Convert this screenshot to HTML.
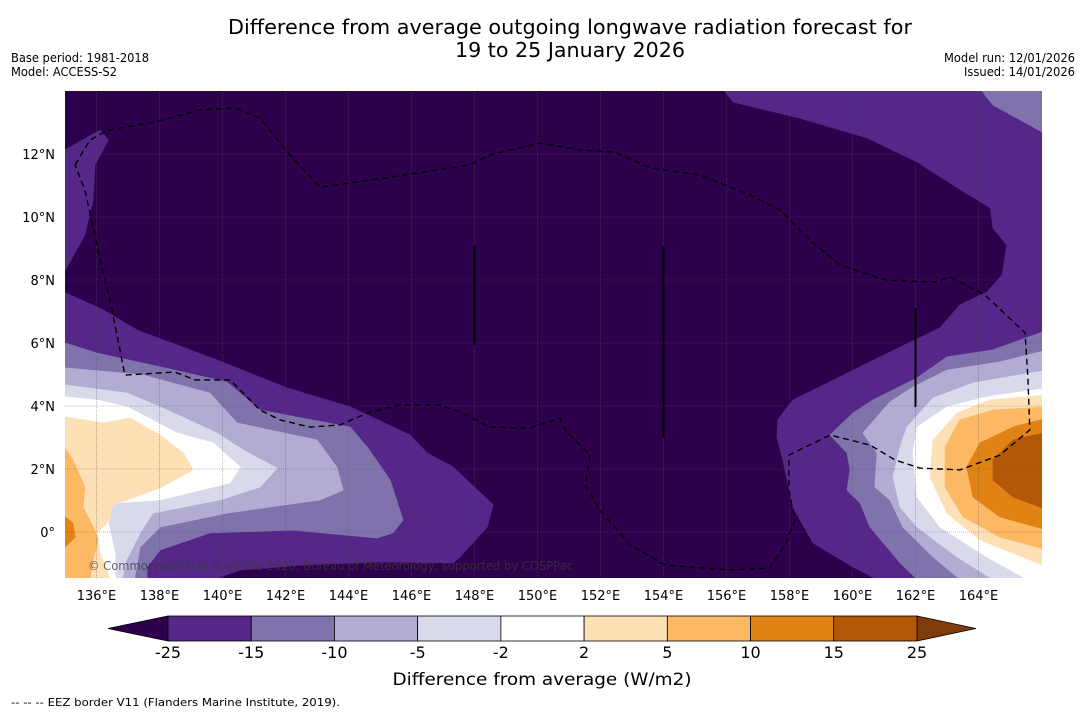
<!DOCTYPE html>
<html><head><meta charset="utf-8"><style>
html,body{margin:0;padding:0;background:#fff;}
svg{display:block;font-family:"DejaVu Sans","Liberation Sans",sans-serif;}
</style></head><body>
<svg id="chart" width="1085" height="713" viewBox="0 0 1085 713">
<text x="570" y="34" font-size="20" text-anchor="middle" textLength="684" lengthAdjust="spacingAndGlyphs" fill="#000">Difference from average outgoing longwave radiation forecast for</text>
<text x="570" y="57" font-size="20" text-anchor="middle" textLength="230" lengthAdjust="spacingAndGlyphs" fill="#000">19 to 25 January 2026</text>
<text x="11" y="62" font-size="12" textLength="138" lengthAdjust="spacingAndGlyphs">Base period: 1981-2018</text>
<text x="11" y="76" font-size="12" textLength="106" lengthAdjust="spacingAndGlyphs">Model: ACCESS-S2</text>
<text x="944" y="62" font-size="12" textLength="131" lengthAdjust="spacingAndGlyphs">Model run: 12/01/2026</text>
<text x="964" y="76" font-size="12" textLength="111" lengthAdjust="spacingAndGlyphs">Issued: 14/01/2026</text>
<defs><clipPath id="mapclip"><rect x="65" y="91" width="977" height="487"/></clipPath></defs>
<g id="map" clip-path="url(#mapclip)">
<rect x="65" y="91" width="977" height="487" fill="#2d004b"/>
<g id="fills"></g><g id="grid"></g><g id="eez"></g>
</g>
<g id="axes"></g>
<text x="88" y="570" font-size="12" textLength="485" lengthAdjust="spacingAndGlyphs" fill="#3a3a3a" fill-opacity="0.75">© Commonwealth of Australia 2026, Bureau of Meteorology, supported by COSPPac</text>
<g id="cbar"></g>
<text x="542" y="685" font-size="17" text-anchor="middle" textLength="299" lengthAdjust="spacingAndGlyphs">Difference from average (W/m2)</text>
<text x="11" y="706" font-size="11" textLength="329" lengthAdjust="spacingAndGlyphs">--  --  -- EEZ border V11 (Flanders Marine Institute, 2019).</text>
</svg>
<script>
const lonTicks=[136,138,140,142,144,146,148,150,152,154,156,158,160,162,164];
const latTicks=[0,2,4,6,8,10,12];
const levels=[-25,-15,-10,-5,-2,2,5,10,15,25];
const levelColors=["#542788","#8073ac","#b2abd2","#d8daeb","#ffffff","#fee0b6","#fdb863","#e08214","#b35806"];
const lowColor="#2d004b", highColor="#7f3b08";
const leftTopPatch=[[135,12.13],[136.11,12.76],[136.37,12.44],[135.95,11.65],[135.89,10.54],[135.63,9.43],[135,8.3]];
const leftM25=[[135,7.6],[136.21,7.05],[137.29,6.41],[139.83,5.46],[142.05,4.57],[144.05,3.97],[145.95,3.08],[146.49,2.51],[147.32,2.06],[148.59,0.86],[148.4,0.16],[147.54,-0.79],[147.32,-0.98],[145,-0.95],[142.46,-1.05],[140.56,-1.21],[139.7,-1.5],[135,-1.5]];
const leftM15=[[135,6.0],[136.02,5.68],[138.02,5.24],[140.14,4.76],[141.19,3.87],[144.05,3.33],[144.59,2.7],[145.32,1.65],[145.73,0.38],[145.41,-0.03],[144.9,-0.19],[142.24,0.06],[139.6,-0.03],[138.02,-0.57],[137.6,-1.11],[137.6,-1.5],[135,-1.5]];
const leftM10=[[135,5.21],[137.48,4.98],[139.6,4.41],[140.46,3.46],[143.0,2.92],[143.63,2.06],[143.83,1.33],[143.1,1.02],[140.14,0.6],[138.02,0.16],[137.38,-0.48],[137.2,-1.5],[135,-1.5]];
const leftM5=[[135,4.67],[136.97,4.41],[138.02,3.97],[139.83,3.14],[140.65,2.6],[141.73,2.03],[141.19,1.43],[139.92,1.02],[137.79,0.6],[137.38,-0.03],[136.95,-0.89],[136.81,-1.5],[135,-1.5]];
const leftM2=[[135,4.29],[136.02,4.19],[136.97,3.97],[138.56,3.14],[139.7,2.83],[140.56,2.06],[140.24,1.56],[138.02,1.02],[136.52,0.92],[136.37,0.29],[136.59,-0.67],[136.6,-1.5],[135,-1.5]];
const leftP2=[[135,3.65],[136.21,3.46],[137.06,3.62],[138.02,3.08],[138.75,2.51],[139.06,1.97],[138.02,1.4],[136.52,0.86],[136.37,0.32],[136.02,-0.03],[136.11,-0.67],[136.43,-1.5],[135,-1.5]];
const leftP5=[[135,2.67],[135.25,2.29],[135.63,1.43],[135.57,0.79],[135.89,0.16],[136.05,-0.25],[135.89,-0.89],[135.79,-1.5],[135,-1.5]];
const leftP10=[[135,0.48],[135.25,0.29],[135.32,-0.16],[135,-0.48]];
const rightM25=[[160.78,-1.5],[160.02,-1.11],[158.75,-0.35],[158.11,0.79],[157.79,2.29],[157.6,3.02],[157.63,3.56],[158.11,4.19],[160.24,5.24],[161.51,5.87],[162.78,6.48],[163.41,7.21],[164.27,7.62],[164.75,8.16],[164.9,9.11],[164.46,9.65],[164.37,10.29],[163.19,11.02],[162.05,11.75],[160.46,12.51],[158.33,13.14],[156.21,13.65],[155.79,14.2],[166.2,14.2],[166.2,-1.5]];
const rightCorner=[[163.95,14.2],[164.46,13.56],[166.2,12.6],[166.2,14.2]];
const rightM15=[[166.2,6.41],[164.46,5.78],[163.0,5.56],[162.05,4.89],[160.65,4.19],[160.02,3.78],[159.29,3.08],[159.83,2.51],[159.92,1.97],[159.83,1.33],[160.24,0.92],[160.56,0.16],[161.51,-0.98],[162.05,-1.5],[166.2,-1.5]];
const rightM10=[[166.2,5.78],[164.68,5.4],[163.0,5.14],[161.92,4.6],[161.19,4.13],[160.33,3.14],[160.78,2.51],[160.71,1.43],[161.19,1.02],[161.6,0.16],[162.56,-0.79],[163.41,-1.5],[166.2,-1.5]];
const rightM5=[[166.2,5.14],[163.83,4.73],[162.56,4.25],[161.73,3.33],[161.51,2.7],[161.29,1.75],[161.51,0.79],[162.05,0.16],[163.32,-0.79],[164.46,-1.5],[166.2,-1.5]];
const rightM2=[[166.2,4.57],[164.27,4.29],[163.0,3.97],[162.05,3.33],[161.92,2.51],[162.05,1.11],[162.78,0.16],[164.27,-0.79],[165.54,-1.5],[166.2,-1.5]];
const rightP2=[[166.2,4.35],[164.37,4.19],[163.32,3.78],[162.56,2.92],[162.46,1.75],[163.0,0.6],[164.05,-0.25],[166.2,-1.11]];
const rightP5=[[166.2,3.97],[164.46,3.87],[163.41,3.56],[162.94,2.7],[162.94,1.43],[163.51,0.48],[164.68,-0.16],[166.2,-0.57]];
const rightP10=[[166.2,3.62],[165.1,3.33],[164.05,2.83],[163.63,2.06],[163.83,1.11],[164.68,0.48],[166.2,0.06]];
const rightP15=[[166.2,3.17],[165.1,2.92],[164.46,2.29],[164.46,1.65],[165.1,1.11],[166.2,0.7]];
const eezLine=[[135.32,11.65],[135.79,12.44],[136.37,12.76],[137.86,13.02],[139.29,13.4],[140.4,13.46],[141.19,13.14],[142.14,11.97],[143.1,10.95],[144.68,11.17],[147.86,11.65],[148.49,11.97],[150.08,12.35],[151.35,12.13],[152.46,12.06],[153.57,11.56],[155.16,11.33],[156.75,10.7],[157.7,10.22],[158.65,9.27],[159.6,8.48],[161.03,8.0],[162.62,7.94],[163.1,8.1],[164.21,7.52],[165.48,6.32],[165.57,4.83],[165.63,3.24],[164.68,2.44],[163.41,1.97],[162.14,2.03],[161.35,2.29],[160.56,2.76],[159.29,3.08],[157.98,2.44],[157.98,1.33],[158.17,0.38],[157.86,-0.41],[157.38,-1.14],[156.11,-1.21],[154.05,-1.05],[152.94,-0.41],[151.98,0.7],[151.51,1.49],[151.67,2.44],[150.87,3.24],[150.71,3.62],[149.76,3.3],[148.49,3.33],[147.54,3.81],[146.9,4.03],[145.63,4.03],[144.68,3.81],[143.73,3.4],[142.78,3.33],[141.83,3.56],[141.19,3.87],[140.24,4.83],[139.13,4.83],[138.49,5.08],[136.9,4.98],[136.43,7.37],[136.11,8.63],[135.95,9.43],[135.63,10.86],[135.32,11.65]];
const islandLines=[[148,9.1,5.94],[154,9.05,3.0],[162,7.11,3.97]];

const NS="http://www.w3.org/2000/svg";
const X0=65,Y0=91,PX=31.5,LON0=135,LAT0=14;
function xs(lon){return X0+(lon-LON0)*PX;}
function ys(lat){return Y0+(LAT0-lat)*PX;}
function mk(tag,attrs,parent){const e=document.createElementNS(NS,tag);for(const k in attrs)e.setAttribute(k,attrs[k]);parent.appendChild(e);return e;}
function pts(a){return a.map(p=>xs(p[0]).toFixed(1)+","+ys(p[1]).toFixed(1)).join(" ");}

const fills=document.getElementById('fills');
const layers=[
 [leftTopPatch,0,'left-top-band-minus15-to-minus25'],[leftM25,0,'left-band-minus15-to-minus25'],[leftM15,1,'left-band-minus10-to-minus15'],[leftM10,2,'left-band-minus5-to-minus10'],[leftM5,3,'left-band-minus2-to-minus5'],[leftM2,4,'left-band-near-zero'],[leftP2,5,'left-band-2-to-5'],[leftP5,6,'left-band-5-to-10'],[leftP10,7,'left-band-10-to-15'],
 [rightM25,0,'right-band-minus15-to-minus25'],[rightCorner,1,'corner-band-minus10-to-minus15'],[rightM15,1,'right-band-minus10-to-minus15'],[rightM10,2,'right-band-minus5-to-minus10'],[rightM5,3,'right-band-minus2-to-minus5'],[rightM2,4,'right-band-near-zero'],[rightP2,5,'right-band-2-to-5'],[rightP5,6,'right-band-5-to-10'],[rightP10,7,'right-band-10-to-15'],[rightP15,8,'right-band-15-to-25']];
layers.forEach(l=>{
 const p=mk('polygon',{points:pts(l[0]),fill:levelColors[l[1]],stroke:levelColors[l[1]],'stroke-width':0.8},fills);
 
 
});

const grid=document.getElementById('grid');
lonTicks.forEach(lon=>{
 const l=mk('line',{x1:xs(lon),x2:xs(lon),y1:91,y2:578,stroke:'#555','stroke-width':0.6,'stroke-dasharray':'1,1','stroke-opacity':0.7},grid);
 
 
});
latTicks.forEach(lat=>{
 const l=mk('line',{x1:65,x2:1042,y1:ys(lat),y2:ys(lat),stroke:'#555','stroke-width':0.6,'stroke-dasharray':'1,1','stroke-opacity':0.7},grid);
 
 
});

const eez=document.getElementById('eez');
const eezP=mk('polyline',{points:pts(eezLine),fill:'none',stroke:'#000','stroke-width':1.4,'stroke-dasharray':'6,4'},eez);


islandLines.forEach(d=>{
 const l=mk('line',{x1:xs(d[0]),x2:xs(d[0]),y1:ys(d[1]),y2:ys(d[2]),stroke:'#000','stroke-width':2},eez);
 
 
});

const axes=document.getElementById('axes');
lonTicks.forEach(lon=>{
 const t=mk('text',{x:xs(lon),y:600,'font-size':13,'text-anchor':'middle'},axes);
 t.textContent=lon+'°E';
 
 
});
latTicks.forEach(lat=>{
 const t=mk('text',{x:55,y:ys(lat)+5,'font-size':13,'text-anchor':'end'},axes);
 t.textContent=lat===0?'0°':lat+'°N';
 
 
});

const cb=document.getElementById('cbar');
const CB0=168,CB1=917,CBY=616,CBH=25,n=levelColors.length,bw=(CB1-CB0)/n;
const lt=mk('polygon',{points:`108,${CBY+CBH/2} ${CB0},${CBY} ${CB0},${CBY+CBH}`,fill:lowColor,stroke:'#000','stroke-width':0.8},cb);


const rt=mk('polygon',{points:`976,${CBY+CBH/2} ${CB1},${CBY} ${CB1},${CBY+CBH}`,fill:highColor,stroke:'#000','stroke-width':0.8},cb);


levelColors.forEach((c,i)=>{
 const r=mk('rect',{x:CB0+i*bw,y:CBY,width:bw,height:CBH,fill:c,stroke:'#000','stroke-width':0.8},cb);
 
 
});
levels.forEach((v,i)=>{
 const t=mk('text',{x:CB0+i*bw,y:658,'font-size':16,'text-anchor':'middle'},cb);
 t.textContent=v;
 
 
});
</script>
</body></html>
